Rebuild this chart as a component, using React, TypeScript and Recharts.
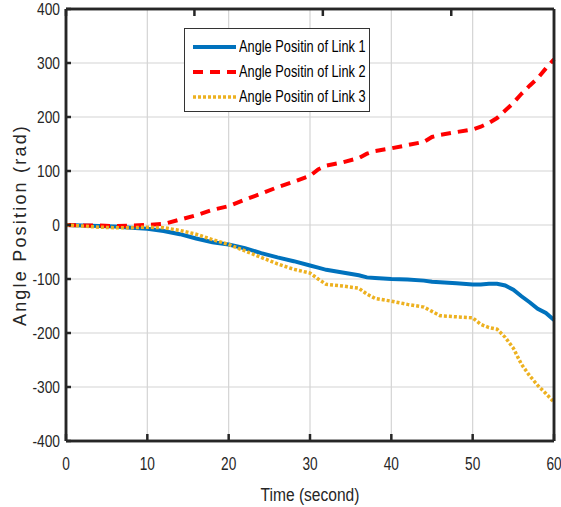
import React from "react"
import { CartesianGrid, Legend, Line, LineChart, ReferenceLine, XAxis, YAxis } from "recharts"

const TIME = [0, 2, 4, 6, 8, 10, 12, 14, 16, 18, 20, 22, 24, 26, 28, 30, 31, 32, 34, 36, 37, 38, 40, 42, 44, 45, 46, 48, 50, 51, 52, 53, 54, 55, 56, 57, 58, 59, 60]
const LINK1 = [0, -1, -2, -3, -5, -7, -11, -17, -25, -32, -36, -43, -52, -60, -67, -75, -79, -83, -88, -93, -97, -98, -100, -101, -103, -105, -106, -108, -110, -110, -109, -109, -112, -120, -132, -143, -155, -163, -176]
const LINK2 = [0, -1, -1, -2, -1, 0, 2, 10, 18, 28, 35, 47, 58, 70, 80, 91, 103, 110, 116, 124, 132, 137, 142, 148, 154, 163, 167, 172, 177, 182, 189, 198, 212, 226, 243, 258, 272, 290, 307]
const LINK3 = [0, -2, -4, -5, -5, -4, -5, -10, -17, -27, -36, -48, -60, -72, -82, -89, -100, -110, -113, -117, -128, -136, -141, -147, -152, -160, -168, -170, -172, -184, -190, -193, -208, -228, -258, -279, -297, -312, -328]

const X_TICKS = [0, 10, 20, 30, 40, 50, 60]
const Y_TICKS = [-400, -300, -200, -100, 0, 100, 200, 300, 400]
const X_DOMAIN: [number, number] = [0, 60]
const Y_DOMAIN: [number, number] = [-400, 400]

const SERIES = [
  { key: "link1", name: "Angle Positin of Link 1", color: "#0072BD", width: 4, dash: undefined },
  { key: "link2", name: "Angle Positin of Link 2", color: "#FF0000", width: 4, dash: "10 7" },
  { key: "link3", name: "Angle Positin of Link 3", color: "#EDB120", width: 3.5, dash: "3 2" },
]

const data = TIME.map((t, i) => ({ t, link1: LINK1[i], link2: LINK2[i], link3: LINK3[i] }))

const AXIS = "#262626"
const FONT = "'Liberation Sans', Arial, sans-serif"
const AXIS_LINE = { stroke: AXIS, strokeWidth: 2.5 }

// inward tick mark (matlab box style) + optional squeezed label, since no narrow font is installed
function BoxTick(props: any) {
  const { x, y, payload, side, len } = props
  const dx = side === "left" ? len : side === "right" ? -len : 0
  const dy = side === "bottom" ? -len : side === "top" ? len : 0
  return (
    <g>
      <line x1={x} y1={y} x2={x + dx} y2={y + dy} stroke={AXIS} strokeWidth={2.5} />
      {side === "bottom" && (
        <g transform={`translate(${x},${y + 15}) scale(0.72,1)`}>
          <text x={0} y={0} dy="0.71em" textAnchor="middle" fill={AXIS} fontSize={19} fontFamily={FONT}>
            {payload.value}
          </text>
        </g>
      )}
      {side === "left" && (
        <g transform={`translate(${x - 6},${y}) scale(0.81,1)`}>
          <text x={0} y={0} dy="0.355em" textAnchor="end" fill={AXIS} fontSize={17} fontFamily={FONT}>
            {payload.value}
          </text>
        </g>
      )}
    </g>
  )
}

function LegendBox() {
  return (
    <div
      style={{
        background: "white",
        border: "1px solid #333",
        width: 186,
        height: 84,
        boxSizing: "border-box",
        padding: "5px 0 0 7px",
        fontFamily: FONT,
        fontSize: 16,
        color: "#000",
      }}
    >
      {SERIES.map((s) => (
        <div key={s.key} style={{ display: "flex", alignItems: "center", height: 25, whiteSpace: "nowrap" }}>
          <svg width={46} height={8} style={{ marginRight: 1, flexShrink: 0 }}>
            <line x1={1} y1={4} x2={44} y2={4} stroke={s.color} strokeWidth={s.width} strokeDasharray={s.dash} />
          </svg>
          <span style={{ display: "inline-block", transform: "scaleX(0.8)", transformOrigin: "left center" }}>{s.name}</span>
        </div>
      ))}
    </div>
  )
}

export default function App() {
  return (
    <div style={{ position: "absolute", left: 0, top: 0, width: 561, height: 507, background: "white" }}>
      <LineChart width={561} height={507} data={data} margin={{ top: 8, right: 6, left: 0, bottom: 0 }}>
        <CartesianGrid stroke="#d4d4d4" strokeWidth={1.2} />
        <XAxis
          dataKey="t"
          type="number"
          domain={X_DOMAIN}
          ticks={X_TICKS}
          interval={0}
          height={66}
          axisLine={AXIS_LINE}
          tickSize={0}
          tickMargin={0}
          tickLine={false}
          tick={<BoxTick side="bottom" len={7} />}
          label={(props: any) => {
            const vb = props.viewBox
            const cx = vb.x + vb.width / 2
            return (
              <g transform={`translate(${cx},${vb.y + 60}) scale(0.82,1)`}>
                <text x={0} y={0} textAnchor="middle" fill={AXIS} fontSize={19} fontFamily={FONT}>
                  Time (second)
                </text>
              </g>
            )
          }}
        />
        <XAxis xAxisId="top" orientation="top" type="number" domain={X_DOMAIN} ticks={X_TICKS} interval={0} height={1} axisLine={AXIS_LINE} tickSize={0} tickMargin={0} tickLine={false} tick={<BoxTick side="top" len={7} />} />
        <YAxis
          type="number"
          domain={Y_DOMAIN}
          ticks={Y_TICKS}
          interval={0}
          width={66}
          axisLine={AXIS_LINE}
          tickSize={0}
          tickMargin={0}
          tickLine={false}
          tick={<BoxTick side="left" len={5} />}
          label={(props: any) => {
            const vb = props.viewBox
            const cy = vb.y + vb.height / 2
            return (
              <text x={26} y={cy} transform={`rotate(-90 26 ${cy})`} textAnchor="middle" fill={AXIS} fontSize={18} letterSpacing={2.2} fontFamily={FONT}>
                Angle Position (rad)
              </text>
            )
          }}
        />
        <YAxis yAxisId="right" orientation="right" type="number" domain={Y_DOMAIN} ticks={Y_TICKS} interval={0} width={1} axisLine={AXIS_LINE} tickSize={0} tickMargin={0} tickLine={false} tick={<BoxTick side="right" len={5} />} />
        {SERIES.map((s) => (
          <Line
            key={s.key}
            type="linear"
            dataKey={s.key}
            name={s.name}
            stroke={s.color}
            strokeWidth={s.width}
            strokeDasharray={s.dash}
            dot={false}
            isAnimationActive={false}
          />
        ))}
        {/* box frame on top of the data */}
        <ReferenceLine x={X_DOMAIN[0]} stroke={AXIS} strokeWidth={2.5} />
        <ReferenceLine x={X_DOMAIN[1]} stroke={AXIS} strokeWidth={2.5} />
        <ReferenceLine y={Y_DOMAIN[0]} stroke={AXIS} strokeWidth={2.5} />
        <ReferenceLine y={Y_DOMAIN[1]} stroke={AXIS} strokeWidth={2.5} />
        <Legend
          layout="vertical"
          align="center"
          verticalAlign="middle"
          wrapperStyle={{ left: 184, top: 28, width: 186 }}
          content={() => <LegendBox />}
        />
      </LineChart>
    </div>
  )
}
